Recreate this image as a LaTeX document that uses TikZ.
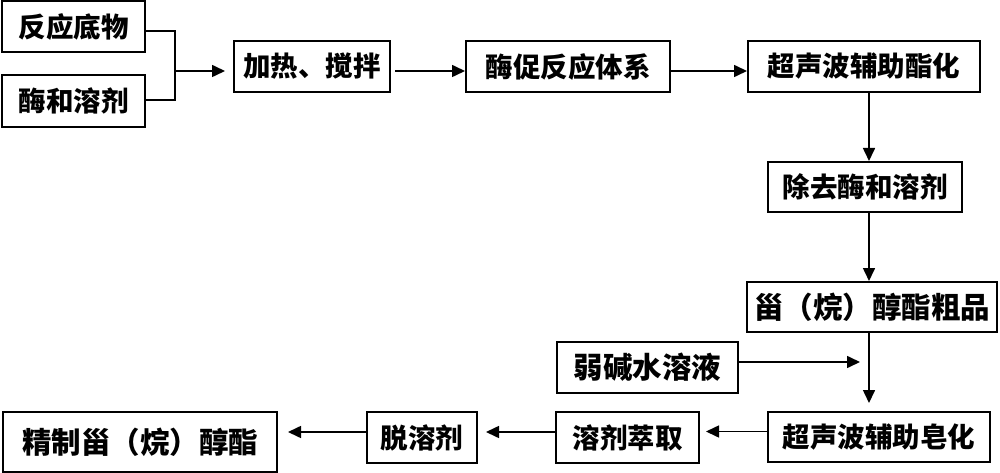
\documentclass[tikz,border=0pt]{standalone}
\usepackage{fontspec}
\setmainfont{Noto Sans CJK SC}
\usetikzlibrary{arrows.meta}
\tikzset{
  box/.style={draw=black, line width=2pt, inner sep=0pt, align=center,
    font=\fontsize{27.5}{30}\selectfont\bfseries},
  bigbox/.style={box, font=\fontsize{29.5}{32}\selectfont\bfseries},
  arr/.style={line width=1.6pt, -{Triangle[length=13pt,width=12pt]}},
  ln/.style={line width=1.6pt}
}
\begin{document}
\begin{tikzpicture}[x=1pt,y=-1pt]
\useasboundingbox (0,0) rectangle (1000,473);
\node[box, minimum width=143pt, minimum height=51pt] (A) at (73.5,26.5) {反应底物};
\node[box, minimum width=143pt, minimum height=52pt] (B) at (73.5,101) {酶和溶剂};
\node[box, minimum width=156pt, minimum height=51pt] (C) at (312,66.5) {加热、搅拌};
\node[box, minimum width=204pt, minimum height=51pt] (D) at (568,66.5) {酶促反应体系};
\node[box, minimum width=232pt, minimum height=51pt] (E) at (864,66.5) {超声波辅助酯化};
\node[box, minimum width=194pt, minimum height=50pt] (F) at (865,187) {除去酶和溶剂};
\node[bigbox, minimum width=250pt, minimum height=50pt] (G) at (872,307) {甾（烷）醇酯粗品};
\node[bigbox, minimum width=181pt, minimum height=51pt] (H) at (647.5,367.5) {弱碱水溶液};
\node[box, minimum width=222pt, minimum height=50pt] (I) at (879,437) {超声波辅助皂化};
\node[box, minimum width=143pt, minimum height=51pt] (J) at (627.5,437.5) {溶剂萃取};
\node[box, minimum width=110pt, minimum height=51pt] (K) at (422,437.5) {脱溶剂};
\node[bigbox, minimum width=274pt, minimum height=60pt] (L) at (140,442) {精制甾（烷）醇酯};
% merge
\coordinate (j1) at (175,31);
\coordinate (j2) at (175,100);
\coordinate (jm) at (175,71);
\draw[ln] ([yshift=-4.5pt]A.east) -- (j1) -- (j2) -- ([yshift=1pt]B.east);
\draw[arr, shorten >=8pt] (jm) -- (jm -| C.west);
\draw[arr, shorten <=4pt] ([yshift=-4.5pt]C.east) -- ([yshift=-4.5pt]D.west);
\draw[arr] ([yshift=-4.5pt]D.east) -- ([yshift=-4.5pt]E.west);
% vertical chain
\draw[arr] (869,92) coordinate (e1) -- (e1 |- F.north);
\draw[arr] (869,212) coordinate (f1) -- (f1 |- G.north);
\draw[arr, shorten >=8pt] (869,332) coordinate (g1) -- (g1 |- I.north);
% side input
\coordinate (hx) at (860,362);
\draw[arr] (H.east |- hx) -- (hx);
% bottom row
\draw[arr, shorten >=6pt] ([yshift=5.5pt]I.west) -- ([yshift=5.5pt]I.west -| J.east);
\draw[arr, shorten >=8pt] ([yshift=5.5pt]J.west) -- ([yshift=5.5pt]J.west -| K.east);
\draw[arr, shorten >=10pt] ([yshift=5.5pt]K.west) -- ([yshift=5.5pt]K.west -| L.east);
\end{tikzpicture}
\end{document}
